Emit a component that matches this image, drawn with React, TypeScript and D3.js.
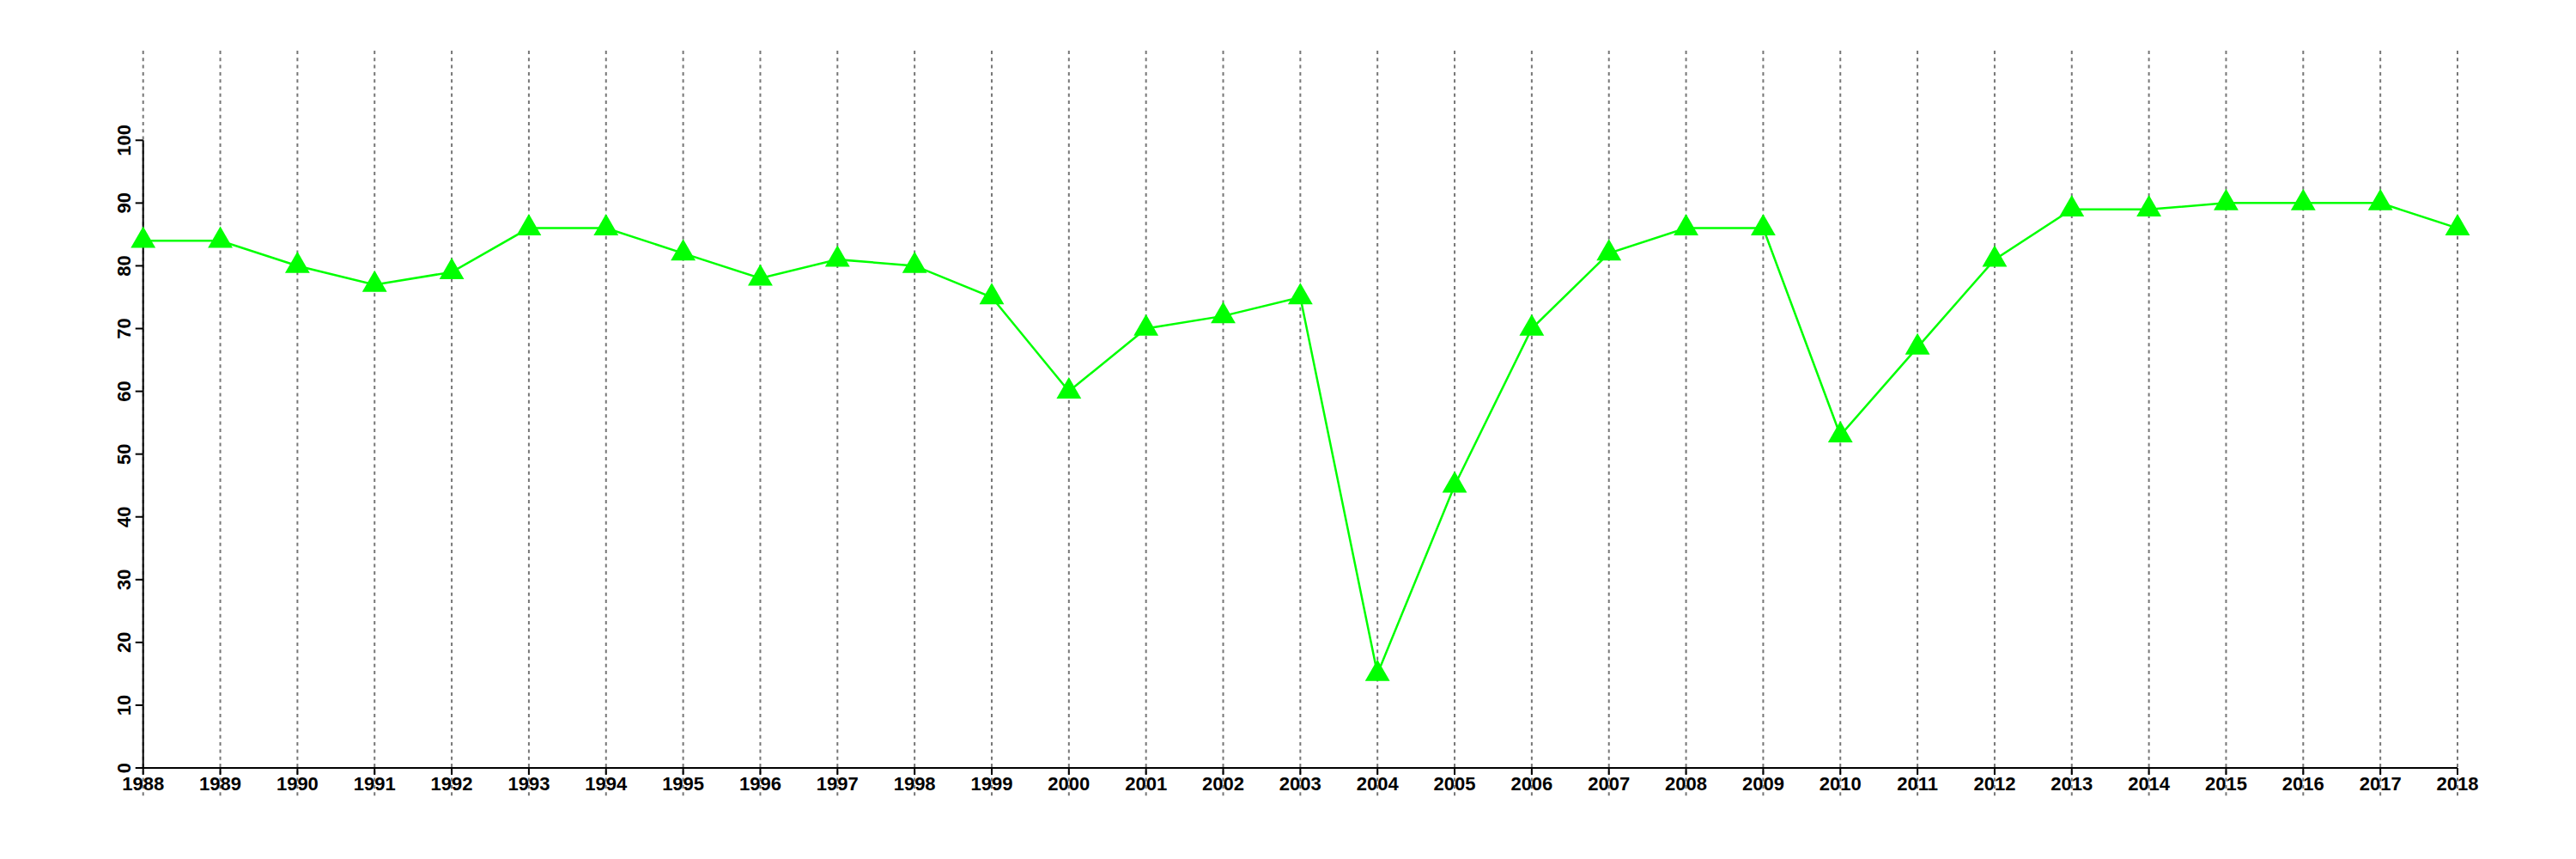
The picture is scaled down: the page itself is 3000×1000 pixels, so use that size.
import React from "react";
import * as d3 from "d3";

const years = [1988,1989,1990,1991,1992,1993,1994,1995,1996,1997,1998,1999,2000,2001,2002,2003,2004,2005,2006,2007,2008,2009,2010,2011,2012,2013,2014,2015,2016,2017,2018];
const values = [84,84,80,77,79,86,86,82,78,81,80,75,60,70,72,75,15,45,70,82,86,86,53,67,81,89,89,90,90,90,86];
const yTicks = [0,10,20,30,40,50,60,70,80,90,100];

const W = 3000, H = 1000;
const FONT = "'Liberation Sans', Arial, Helvetica, sans-serif";

export default function App() {
  const x = d3.scaleLinear().domain([1988, 2018]).range([166.7, 2862]);
  const y = d3.scaleLinear().domain([0, 100]).range([894, 163.3]);
  const plotTop = 59;
  const plotBottom = 927;
  const line = d3.line<number>().x((_, i) => x(years[i])).y((d) => y(d));
  const tri = d3.symbol().type(d3.symbolTriangle).size(360)();

  return (
    <svg width={W} height={H} style={{ position: "absolute", left: 0, top: 0, background: "#fff" }}>
      <rect width={W} height={H} fill="#fff" />
      {years.map((yr) => (
        <line key={"g" + yr} x1={x(yr)} x2={x(yr)} y1={plotTop} y2={plotBottom}
          stroke="#777" strokeWidth={2} strokeDasharray="4,4.3" />
      ))}
      {/* axes */}
      <line x1={x(1988)} x2={x(2018)} y1={y(0)} y2={y(0)} stroke="#000" strokeWidth={2} />
      {years.map((yr) => (
        <g key={"xt" + yr}>
          <line x1={x(yr)} x2={x(yr)} y1={y(0)} y2={y(0) + 8} stroke="#000" strokeWidth={2} />
          <text x={x(yr)} y={919.5} textAnchor="middle" fontFamily={FONT} fontWeight="bold" fontSize={22} fill="#000">{yr}</text>
        </g>
      ))}
      <line x1={x(1988)} x2={x(1988)} y1={y(0)} y2={y(100)} stroke="#000" strokeWidth={2} />
      {yTicks.map((t) => (
        <g key={"yt" + t}>
          <line x1={x(1988) - 9} x2={x(1988)} y1={y(t)} y2={y(t)} stroke="#000" strokeWidth={2} />
          <text transform={`translate(152,${y(t)}) rotate(-90)`} textAnchor="middle" fontFamily={FONT} fontWeight="bold" fontSize={22} fill="#000">{t}</text>
        </g>
      ))}
      <path d={line(values) || ""} fill="none" stroke="#00ff00" strokeWidth={2.5} />
      {values.map((v, i) => (
        <path key={"p" + i} d={tri || ""} transform={`translate(${x(years[i])},${y(v)})`} fill="#00ff00" />
      ))}
    </svg>
  );
}
